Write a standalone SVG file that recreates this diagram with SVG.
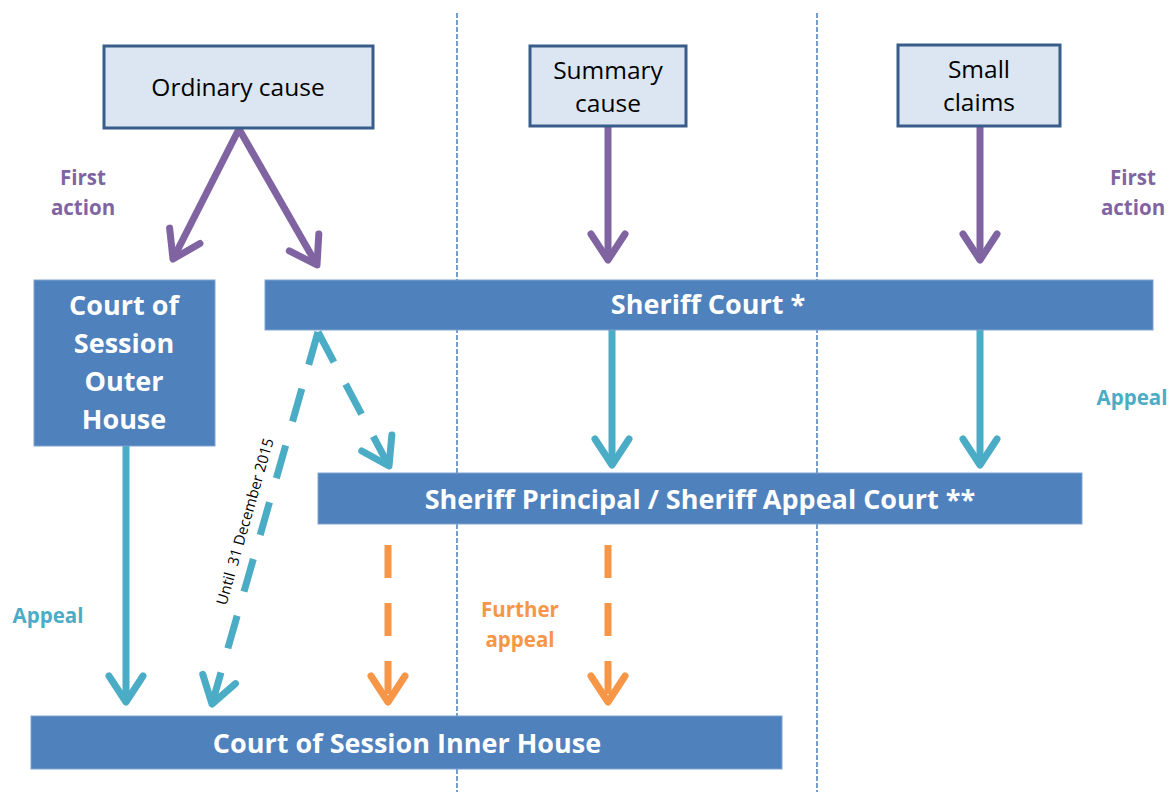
<svg xmlns="http://www.w3.org/2000/svg" width="1173" height="794" viewBox="0 0 1173 794">
<style>
.src{fill:#dce6f2;stroke:#385d8a;stroke-width:3}
.bar{fill:#4f81bd;stroke:#7fa3d3;stroke-width:1}
.t{font-family:"Open Sans",Lato,sans-serif;text-anchor:middle}
.srct{font-size:24.5px;fill:#000}
.bart{font-size:27px;font-weight:bold;fill:#fff}
.lbl{font-size:20.5px;font-weight:bold}
.div{stroke:#4a7ebb;stroke-width:1.5;stroke-dasharray:5 2;fill:none}
.pur{stroke:#8064a2;stroke-width:7;fill:none}
.teal{stroke:#4bacc6;stroke-width:7;fill:none}
.org{stroke:#f79646;stroke-width:7;fill:none}
.dash{stroke-dasharray:34 25}
</style>
<defs>
<marker id="hp" markerUnits="userSpaceOnUse" markerWidth="60" markerHeight="60" refX="0" refY="0" viewBox="-30 -30 60 60" orient="auto" overflow="visible">
<path d="M-26,-17 L0,0 L-26,17" fill="none" stroke="#8064a2" stroke-width="7" stroke-linecap="round" stroke-linejoin="round"/>
</marker>
<marker id="ht" markerUnits="userSpaceOnUse" markerWidth="60" markerHeight="60" refX="0" refY="0" viewBox="-30 -30 60 60" orient="auto" overflow="visible">
<path d="M-26,-17 L0,0 L-26,17" fill="none" stroke="#4bacc6" stroke-width="7" stroke-linecap="round" stroke-linejoin="round"/>
</marker>
<marker id="ho" markerUnits="userSpaceOnUse" markerWidth="60" markerHeight="60" refX="0" refY="0" viewBox="-30 -30 60 60" orient="auto" overflow="visible">
<path d="M-26,-17 L0,0 L-26,17" fill="none" stroke="#f79646" stroke-width="7" stroke-linecap="round" stroke-linejoin="round"/>
</marker>
</defs>
<rect width="1173" height="794" fill="#fff"/>
<g id="dividers">
<line class="div" x1="457" y1="13" x2="457" y2="792"/>
<line class="div" x1="817" y1="13" x2="817" y2="792"/>
</g>
<g id="connectors">
<line class="pur" x1="239" y1="129" x2="173" y2="259" marker-end="url(#hp)"/>
<line class="pur" x1="239" y1="129" x2="317" y2="265" marker-end="url(#hp)"/>
<line class="pur" x1="608" y1="126" x2="608" y2="260" marker-end="url(#hp)"/>
<line class="pur" x1="980" y1="126" x2="980" y2="260" marker-end="url(#hp)"/>
<line class="teal" x1="612" y1="330" x2="612" y2="465" marker-end="url(#ht)"/>
<line class="teal" x1="980" y1="330" x2="980" y2="465" marker-end="url(#ht)"/>
<line class="teal" x1="126" y1="446" x2="126" y2="702" marker-end="url(#ht)"/>
<line class="teal dash" x1="318" y1="332" x2="212" y2="704" marker-end="url(#ht)"/>
<line class="teal dash" x1="318" y1="332" x2="389" y2="466" marker-end="url(#ht)"/>
<line class="org" x1="388" y1="545" x2="388" y2="702" stroke-dasharray="33 25" marker-end="url(#ho)"/>
<line class="org" x1="608" y1="545" x2="608" y2="702" stroke-dasharray="33 25" marker-end="url(#ho)"/>
</g>
<g id="ordinary">
<rect class="src" x="104" y="46" width="269" height="82"/>
<text class="t srct" x="238" y="96">Ordinary cause</text>
</g>
<g id="summary">
<rect class="src" x="530" y="46" width="156" height="80"/>
<text class="t srct" x="608" y="79">Summary</text>
<text class="t srct" x="608" y="112">cause</text>
</g>
<g id="small">
<rect class="src" x="898" y="45" width="162" height="81"/>
<text class="t srct" x="979" y="78">Small</text>
<text class="t srct" x="979" y="111">claims</text>
</g>
<g id="outer">
<rect class="bar" x="34" y="280" width="181" height="166"/>
<text class="t bart" x="124" y="315">Court of</text>
<text class="t bart" x="124" y="353">Session</text>
<text class="t bart" x="124" y="391">Outer</text>
<text class="t bart" x="124" y="429">House</text>
</g>
<g id="sheriff">
<rect class="bar" x="265" y="280" width="888" height="50"/>
<text class="t bart" x="708" y="314">Sheriff Court *</text>
</g>
<g id="principal">
<rect class="bar" x="318" y="473" width="764" height="51"/>
<text class="t bart" x="700" y="509">Sheriff Principal / Sheriff Appeal Court **</text>
</g>
<g id="inner">
<rect class="bar" x="31" y="716" width="751" height="53"/>
<text class="t bart" x="407" y="753">Court of Session Inner House</text>
</g>
<g id="labels">
<text class="t lbl" fill="#8064a2" x="83" y="185">First</text>
<text class="t lbl" fill="#8064a2" x="83" y="215">action</text>
<text class="t lbl" fill="#8064a2" x="1133" y="185">First</text>
<text class="t lbl" fill="#8064a2" x="1133" y="215">action</text>
<text class="t lbl" fill="#4bacc6" x="48" y="623">Appeal</text>
<text class="t lbl" fill="#4bacc6" x="1132" y="405">Appeal</text>
<text class="t lbl" fill="#f79646" x="520" y="617">Further</text>
<text class="t lbl" fill="#f79646" x="520" y="647">appeal</text>
<text class="t" font-size="15" fill="#000" transform="translate(250,523) rotate(-74)" xml:space="preserve">Until  31 December 2015</text>
</g>
</svg>
